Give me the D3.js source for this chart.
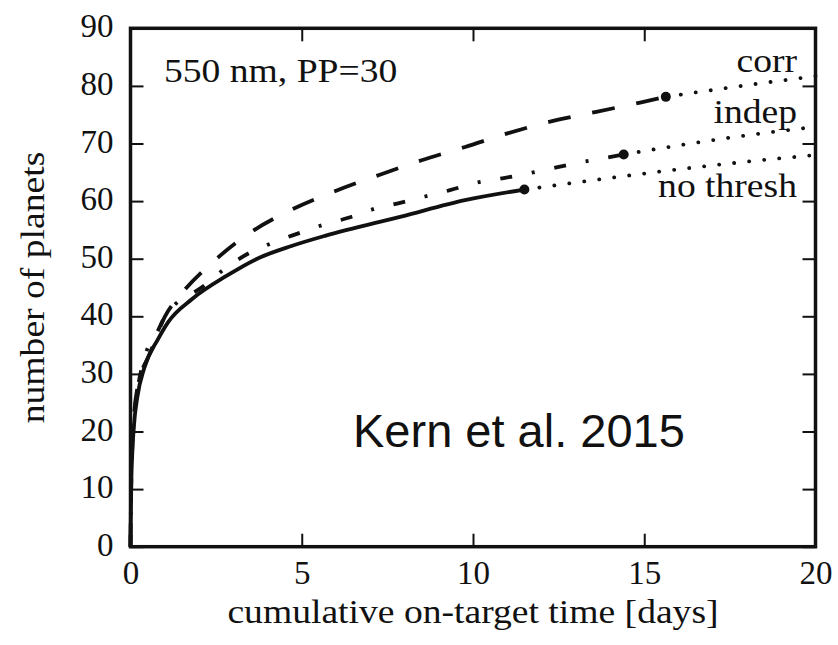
<!DOCTYPE html>
<html>
<head>
<meta charset="utf-8">
<script src="https://cdn.jsdelivr.net/npm/d3@7"></script>
<style>
  body { margin: 0; background: #fff; }
  text { font-family: "Liberation Serif", "DejaVu Serif", serif; fill: #111; }
</style>
</head>
<body>
<svg id="chart" width="838" height="645"></svg>
<script>
// curves: [days, planets]
let noThresh = [[0,0],[0.02,10],[0.05,16],[0.1,21],[0.2,26],[0.4,31],[0.8,36],[1.1,39],[1.8,43],[2.8,47],[3.7,50],[4.7,52.2],[5.7,54],[7.9,57.3],[9.8,60.2],[11.5,62]]
let indep = [[0,0],[0.02,11],[0.05,17],[0.1,22],[0.2,27],[0.42,33],[0.81,37.6],[1.0,39.9],[2.17,45.4],[2.76,48.3],[3.44,50.9],[4.12,52.7],[4.9,54.4],[5.58,55.8],[6.36,57.1],[7.09,58.6],[7.87,59.7],[8.6,60.8],[9.33,61.9],[10.1,63.2],[10.9,64.0],[12.4,65.8],[13.1,66.7],[13.95,67.6],[14.4,68.1]]
let corr = [[0,0],[0.02,11],[0.05,17],[0.1,22.5],[0.2,27.5],[0.57,33.6],[1.0,39.9],[1.5,44.0],[2.42,49.5],[3.54,54.7],[4.7,58.5],[5.92,61.6],[7.24,64.5],[8.5,67.1],[9.77,69.4],[11.03,71.8],[12.05,73.5],[13.6,75.5],[14.88,77.1],[15.63,78.1]]
// dotted extrapolations past the end points
let noThreshExt = [[11.5,62],[17.6,66.6],[20,68]]
let indepExt = [[14.4,68.1],[17.6,71.1],[20,72.9]]
let corrExt = [[15.63,78.1],[17.6,79.8],[20,81.7]]

let xTicks = [0, 5, 10, 15, 20]
let yTicks = [0, 10, 20, 30, 40, 50, 60, 70, 80, 90]
let curveLabels = ['corr', 'indep', 'no thresh']
let curveLabelY = [82.4, 73.6, 60.7]

let svg = d3.select('#chart')
let mLeft = 130.5, mRight = 815.5, mTop = 28.3, mBottom = 546.7
let stretch = 1.14   // the serif labels in the picture are wider than Liberation Serif

let x = d3.scaleLinear().domain([0, 20]).range([mLeft, mRight])
let y = d3.scaleLinear().domain([0, 90]).range([mBottom, mTop])

let line = d3.line().x(d => x(d[0])).y(d => y(d[1])).curve(d3.curveMonotoneX)

// ticks (inward on all four sides)
let styleAxis = g => {
  g.select('.domain').remove()
  g.selectAll('.tick line').attr('stroke', '#111').attr('stroke-width', 2)
  g.selectAll('.tick text').style('font-family', '"Liberation Serif", serif').style('font-size', '33px').attr('fill', '#111')
}
svg.append('g').attr('transform', `translate(0,${mBottom})`)
   .call(d3.axisBottom(x).tickValues(xTicks).tickSize(-13).tickPadding(14).tickFormat(d3.format('d')))
   .call(styleAxis)
svg.append('g').attr('transform', `translate(0,${mTop})`)
   .call(d3.axisTop(x).tickValues(xTicks).tickSize(-13).tickFormat(''))
   .call(styleAxis)
svg.append('g').attr('transform', `translate(${mLeft},0)`)
   .call(d3.axisLeft(y).tickValues(yTicks).tickSize(-13).tickPadding(17).tickFormat(d3.format('d')))
   .call(styleAxis)
   .selectAll('.tick text').attr('dy', '0.26em')
svg.append('g').attr('transform', `translate(${mRight},0)`)
   .call(d3.axisRight(y).tickValues(yTicks).tickSize(-13).tickFormat(''))
   .call(styleAxis)

svg.append('rect')
   .attr('x', mLeft).attr('y', mTop)
   .attr('width', mRight - mLeft).attr('height', mBottom - mTop)
   .attr('fill', 'none').attr('stroke', '#111').attr('stroke-width', 3.5)

// curves
let plot = svg.append('g')
plot.append('path').datum(noThresh).attr('d', line)
    .attr('fill', 'none').attr('stroke', '#111').attr('stroke-width', 3.8)
plot.append('path').datum(indep).attr('d', line)
    .attr('fill', 'none').attr('stroke', '#111').attr('stroke-width', 3.8)
    .attr('stroke-dasharray', '12 20 3 20')
plot.append('path').datum(corr).attr('d', line)
    .attr('fill', 'none').attr('stroke', '#111').attr('stroke-width', 3.8)
    .attr('stroke-dasharray', '23 22')

;[noThreshExt, indepExt, corrExt].forEach(ext => {
  plot.append('path').datum(ext).attr('d', line)
      .attr('fill', 'none').attr('stroke', '#111').attr('stroke-width', 3.8)
      .attr('stroke-linecap', 'round').attr('stroke-dasharray', '0.1 15')
})

let endPoints = [noThresh[noThresh.length - 1], indep[indep.length - 1], corr[corr.length - 1]]
plot.selectAll('circle').data(endPoints).enter().append('circle')
    .attr('cx', d => x(d[0])).attr('cy', d => y(d[1])).attr('r', 5).attr('fill', '#111')

// curve labels
svg.selectAll('.clabel').data(curveLabels).enter().append('text')
   .attr('class', 'clabel')
   .attr('transform', (d, i) => `translate(797,${y(curveLabelY[i])}) scale(${stretch},1)`)
   .attr('text-anchor', 'end').style('font-size', '33px')
   .text(d => d)

svg.append('text').attr('transform', `translate(164,82) scale(${stretch},1)`)
   .style('font-size', '33px').text('550 nm, PP=30')

svg.append('text').attr('x', 353).attr('y', 447)
   .style('font-family', '"Liberation Sans", Arial, sans-serif').style('font-size', '47px')
   .text('Kern et al. 2015')

// axis titles
svg.append('text').attr('transform', `translate(${(mLeft + mRight) / 2},623) scale(${stretch},1)`)
   .attr('text-anchor', 'middle').style('font-size', '33px')
   .text('cumulative on-target time [days]')
svg.append('text').attr('transform', `translate(44,${(mTop + mBottom) / 2}) rotate(-90) scale(${stretch},1)`)
   .attr('text-anchor', 'middle').style('font-size', '33px')
   .text('number of planets')
</script>
</body>
</html>
